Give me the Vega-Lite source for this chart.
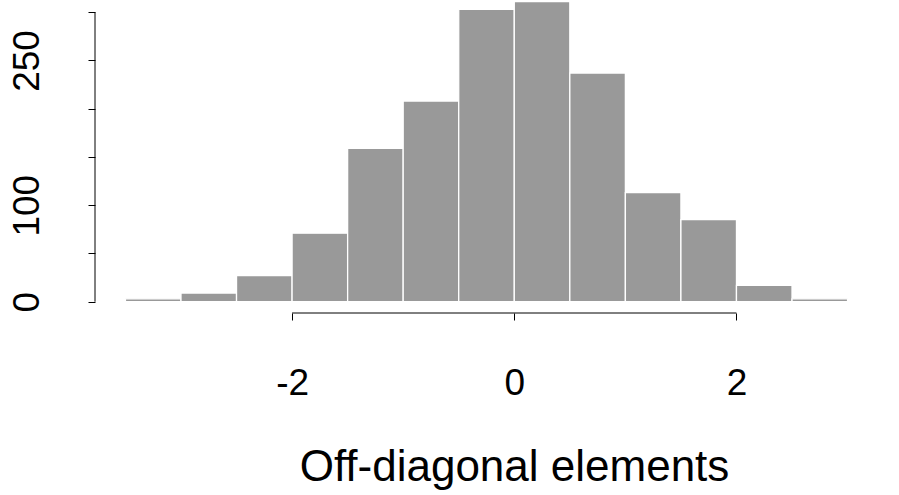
{
  "$schema": "https://vega.github.io/schema/vega-lite/v6.json",
  "autosize": {"type": "none"},
  "width": 804,
  "height": 313,
  "padding": {"left": 95, "top": 0, "right": 0, "bottom": 182},
  "background": "white",
  "config": {
    "view": {"stroke": null},
    "font": "Liberation Sans",
    "axis": {"grid": false, "domain": false, "tickColor": "black", "tickSize": 7, "tickWidth": 1, "labelColor": "black", "titleColor": "black", "labelFont": "Liberation Sans", "titleFont": "Liberation Sans", "titleFontWeight": "normal"}
  },
  "datasets": {
    "bins": [
      {"bin_start": -3.5, "bin_end": -3.0, "count": 3},
      {"bin_start": -3.0, "bin_end": -2.5, "count": 9},
      {"bin_start": -2.5, "bin_end": -2.0, "count": 27},
      {"bin_start": -2.0, "bin_end": -1.5, "count": 71},
      {"bin_start": -1.5, "bin_end": -1.0, "count": 159},
      {"bin_start": -1.0, "bin_end": -0.5, "count": 208},
      {"bin_start": -0.5, "bin_end": 0.0, "count": 303},
      {"bin_start": 0.0, "bin_end": 0.5, "count": 311},
      {"bin_start": 0.5, "bin_end": 1.0, "count": 237},
      {"bin_start": 1.0, "bin_end": 1.5, "count": 113},
      {"bin_start": 1.5, "bin_end": 2.0, "count": 85},
      {"bin_start": 2.0, "bin_end": 2.5, "count": 17},
      {"bin_start": 2.5, "bin_end": 3.0, "count": 3},
      {"bin_start": 3.0, "bin_end": 3.5, "count": 0}
    ],
    "xaxisline": [{"from": -2, "to": 2, "at": -11.7}],
    "yaxisline": [{"at": -3.774, "from": 0, "to": 300}]
  },
  "layer": [
    {
      "data": {"name": "bins"},
      "mark": {"type": "bar", "fill": "#999999", "stroke": "white", "strokeWidth": 1.3, "clip": true},
      "encoding": {
        "x": {
          "field": "bin_start", "type": "quantitative",
          "scale": {"domain": [-3.774, 3.463], "nice": false, "zero": false},
          "axis": {"values": [-2, 0, 2], "labelExpr": "datum.value < 0 ? '-' + abs(datum.value) : '' + datum.value", "labelFontSize": 37, "labelPadding": 45, "title": "Off-diagonal elements", "titleFontSize": 44, "titlePadding": 44, "titleX": 419}
        },
        "x2": {"field": "bin_end"},
        "y": {
          "field": "count", "type": "quantitative",
          "scale": {"domain": [-11.7, 312.7], "nice": false, "zero": false},
          "axis": {"values": [0, 50, 100, 150, 200, 250, 300], "labelExpr": "datum.value == 0 || datum.value == 100 || datum.value == 250 ? datum.label : ''", "labelAngle": -90, "labelAlign": "center", "labelBaseline": "bottom", "labelFontSize": 37, "labelPadding": 42, "title": null}
        },
        "y2": {"datum": 0}
      }
    },
    {
      "data": {"name": "xaxisline"},
      "mark": {"type": "rule", "color": "black", "strokeWidth": 1},
      "encoding": {
        "x": {"field": "from", "type": "quantitative"},
        "x2": {"field": "to"},
        "y": {"field": "at", "type": "quantitative"}
      }
    },
    {
      "data": {"name": "yaxisline"},
      "mark": {"type": "rule", "color": "black", "strokeWidth": 1},
      "encoding": {
        "x": {"field": "at", "type": "quantitative"},
        "y": {"field": "from", "type": "quantitative"},
        "y2": {"field": "to"}
      }
    }
  ]
}
